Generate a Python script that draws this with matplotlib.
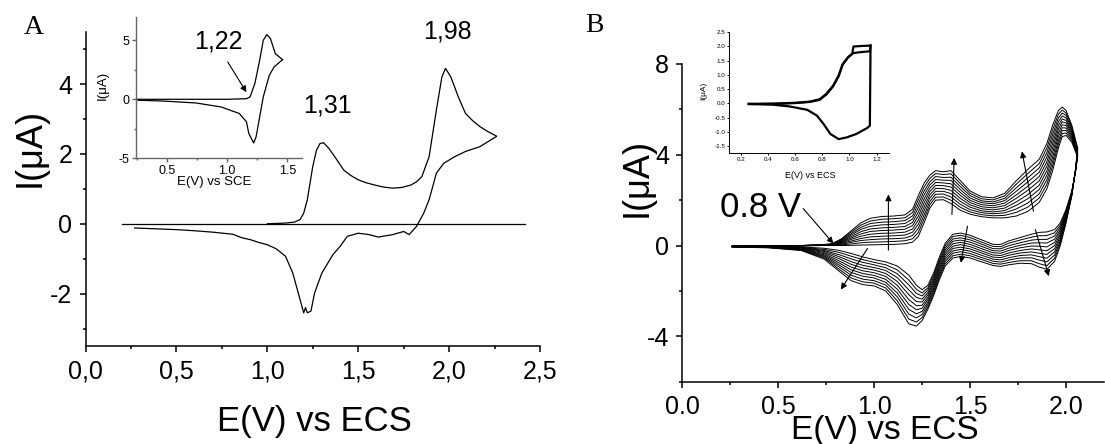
import matplotlib
matplotlib.use('Agg')
import matplotlib.pyplot as plt
from matplotlib.ticker import MultipleLocator, FuncFormatter

plt.rcParams['font.family'] = ['Liberation Sans', 'DejaVu Sans']
plt.rcParams['axes.unicode_minus'] = False

W, H = 1105, 444

# ---------------- panel A : single voltammogram ----------------
a_base_e = [0.20, 2.42]
a_base_i = [0.0, 0.0]
a_fwd_e = [1.00, 1.10, 1.15, 1.18, 1.20, 1.22, 1.25, 1.27, 1.29, 1.31, 1.34, 1.38, 1.42, 1.46,
           1.50, 1.54, 1.59, 1.64, 1.69, 1.74, 1.79, 1.82, 1.85, 1.89, 1.93, 1.96, 1.98, 2.01,
           2.05, 2.09, 2.13, 2.17, 2.21, 2.26]
a_fwd_i = [0.0, 0.02, 0.05, 0.12, 0.30, 0.69, 1.64, 2.10, 2.30, 2.32, 2.15, 1.85, 1.54, 1.38,
           1.26, 1.18, 1.11, 1.05, 1.02, 1.04, 1.11, 1.20, 1.35, 1.92, 3.26, 4.20, 4.45, 4.20,
           3.64, 3.16, 2.95, 2.78, 2.65, 2.51]
a_rev_e = [2.26, 2.17, 2.09, 2.03, 1.97, 1.93, 1.89, 1.86, 1.82, 1.78, 1.75, 1.69, 1.61, 1.56,
           1.50, 1.44, 1.40, 1.36, 1.30, 1.26, 1.24, 1.22, 1.21, 1.20, 1.18, 1.14, 1.10, 1.05,
           1.00, 0.95, 0.91, 0.86, 0.81, 0.70, 0.60, 0.51, 0.27]
a_rev_i = [2.50, 2.21, 2.07, 1.92, 1.73, 1.45, 0.69, 0.30, -0.08, -0.31, -0.22, -0.31, -0.38, -0.31,
           -0.27, -0.36, -0.65, -0.89, -1.41, -1.98, -2.50, -2.55, -2.40, -2.55, -2.17, -1.41, -0.93, -0.72,
           -0.60, -0.53, -0.46, -0.40, -0.30, -0.24, -0.20, -0.17, -0.12]

# inset of A
ia_fwd_e = [0.25, 1.00, 1.16, 1.19, 1.23, 1.27, 1.30, 1.33, 1.36, 1.40, 1.46]
ia_fwd_i = [0.0, 0.0, 0.05, 0.20, 1.33, 3.30, 5.00, 5.48, 5.14, 3.87, 3.36]
ia_rev_e = [1.46, 1.39, 1.35, 1.30, 1.27, 1.24, 1.22, 1.18, 1.16, 1.10, 0.95, 0.74, 0.45, 0.26]
ia_rev_i = [3.36, 2.74, 2.03, 0.20, -1.50, -3.20, -3.70, -2.90, -1.90, -1.20, -0.65, -0.31, -0.14, -0.08]

# ---------------- panel B : repeated cycles ----------------
b_fwd_e = [0.26, 0.45, 0.62, 0.72, 0.78, 0.83, 0.88, 0.93, 0.98, 1.04, 1.10, 1.16, 1.20, 1.23,
           1.26, 1.29, 1.32, 1.36, 1.40, 1.45, 1.50, 1.56, 1.62, 1.68, 1.74, 1.80, 1.86, 1.90,
           1.93, 1.96, 1.98, 2.00, 2.03, 2.06]
b_fwd_i = [
    [-0.03, -0.02, -0.01, 0.0, 0.0, 0.0, 0.01, 0.02, 0.03, 0.04, 0.05, 0.08, 0.15, 0.4, 1.0, 1.65, 2.0, 2.02, 1.85, 1.55, 1.38, 1.27, 1.22, 1.22, 1.3, 1.5, 1.9, 2.5, 3.3, 4.3, 4.8, 4.85, 4.55, 3.9],
    [-0.03, -0.02, -0.01, 0.0, 0.01, 0.03, 0.07, 0.12, 0.15, 0.16, 0.18, 0.21, 0.30, 0.58, 1.18, 1.80, 2.13, 2.14, 2.00, 1.68, 1.48, 1.36, 1.31, 1.33, 1.46, 1.69, 2.09, 2.7, 3.5, 4.47, 4.93, 4.96, 4.63, 3.94],
    [-0.03, -0.02, -0.01, 0.01, 0.02, 0.06, 0.14, 0.22, 0.26, 0.29, 0.30, 0.33, 0.44, 0.76, 1.35, 1.94, 2.26, 2.27, 2.14, 1.81, 1.58, 1.45, 1.40, 1.44, 1.61, 1.87, 2.28, 2.9, 3.7, 4.63, 5.06, 5.07, 4.70, 3.98],
    [-0.03, -0.02, -0.01, 0.01, 0.02, 0.09, 0.20, 0.31, 0.38, 0.41, 0.43, 0.46, 0.59, 0.94, 1.53, 2.09, 2.39, 2.39, 2.29, 1.94, 1.69, 1.53, 1.48, 1.54, 1.77, 2.06, 2.47, 3.1, 3.9, 4.80, 5.19, 5.18, 4.78, 4.02],
    [-0.03, -0.02, -0.01, 0.01, 0.03, 0.12, 0.27, 0.41, 0.50, 0.54, 0.55, 0.59, 0.73, 1.12, 1.70, 2.23, 2.52, 2.51, 2.43, 2.07, 1.79, 1.62, 1.57, 1.65, 1.92, 2.24, 2.66, 3.3, 4.1, 4.96, 5.32, 5.29, 4.85, 4.06],
    [-0.03, -0.02, 0.0, 0.02, 0.04, 0.15, 0.33, 0.51, 0.62, 0.66, 0.68, 0.72, 0.88, 1.30, 1.88, 2.38, 2.65, 2.64, 2.58, 2.20, 1.89, 1.71, 1.66, 1.76, 2.08, 2.43, 2.85, 3.5, 4.3, 5.13, 5.45, 5.40, 4.93, 4.10],
    [-0.03, -0.02, 0.0, 0.02, 0.05, 0.18, 0.39, 0.61, 0.73, 0.78, 0.80, 0.84, 1.02, 1.48, 2.05, 2.52, 2.78, 2.76, 2.72, 2.33, 1.99, 1.80, 1.75, 1.87, 2.23, 2.61, 3.04, 3.7, 4.5, 5.29, 5.58, 5.51, 5.00, 4.14],
    [-0.03, -0.02, 0.0, 0.02, 0.06, 0.21, 0.46, 0.71, 0.85, 0.91, 0.93, 0.97, 1.17, 1.66, 2.23, 2.67, 2.91, 2.88, 2.87, 2.46, 2.09, 1.89, 1.84, 1.98, 2.39, 2.80, 3.23, 3.9, 4.7, 5.46, 5.71, 5.62, 5.08, 4.18],
    [-0.03, -0.02, 0.0, 0.02, 0.06, 0.24, 0.52, 0.80, 0.97, 1.03, 1.05, 1.10, 1.31, 1.84, 2.40, 2.81, 3.04, 3.00, 3.01, 2.59, 2.20, 1.97, 1.92, 2.08, 2.54, 2.98, 3.42, 4.1, 4.9, 5.62, 5.84, 5.73, 5.15, 4.22],
    [-0.03, -0.02, 0.0, 0.03, 0.07, 0.27, 0.59, 0.90, 1.08, 1.16, 1.18, 1.22, 1.46, 2.02, 2.58, 2.96, 3.17, 3.13, 3.16, 2.72, 2.30, 2.06, 2.01, 2.19, 2.70, 3.17, 3.61, 4.3, 5.1, 5.79, 5.97, 5.84, 5.23, 4.26],
    [-0.03, -0.02, 0.0, 0.03, 0.08, 0.30, 0.65, 1.0, 1.2, 1.28, 1.3, 1.35, 1.6, 2.2, 2.75, 3.1, 3.3, 3.25, 3.3, 2.85, 2.4, 2.15, 2.1, 2.3, 2.85, 3.35, 3.8, 4.5, 5.3, 5.95, 6.1, 5.95, 5.3, 4.3],
]
b_rev_e = [2.06, 2.05, 2.03, 2.00, 1.97, 1.94, 1.90, 1.86, 1.82, 1.76, 1.70, 1.66, 1.62, 1.56,
           1.50, 1.45, 1.41, 1.37, 1.34, 1.31, 1.28, 1.25, 1.22, 1.18, 1.12, 1.06, 1.00, 0.94,
           0.88, 0.82, 0.74, 0.62, 0.45, 0.26]
b_rev_i = [
    [3.9, 3.3, 2.4, 1.6, 1.0, 0.7, 0.6, 0.58, 0.5, 0.35, 0.2, 0.05, 0.05, 0.25, 0.45, 0.55, 0.5, 0.1, -0.5, -1.2, -1.75, -1.95, -1.75, -1.3, -0.9, -0.72, -0.62, -0.5, -0.35, -0.22, -0.12, -0.06, -0.04, -0.03],
    [3.94, 3.31, 2.38, 1.54, 0.9, 0.56, 0.44, 0.43, 0.37, 0.24, 0.10, -0.05, -0.04, 0.15, 0.35, 0.45, 0.40, 0.0, -0.6, -1.3, -1.86, -2.09, -1.93, -1.52, -1.07, -0.85, -0.74, -0.62, -0.47, -0.31, -0.17, -0.08, -0.05, -0.03],
    [3.98, 3.32, 2.36, 1.48, 0.8, 0.42, 0.27, 0.27, 0.24, 0.12, -0.01, -0.14, -0.14, 0.06, 0.25, 0.34, 0.29, -0.1, -0.7, -1.4, -1.96, -2.22, -2.11, -1.73, -1.24, -0.98, -0.85, -0.74, -0.59, -0.41, -0.22, -0.09, -0.05, -0.04],
    [4.02, 3.33, 2.34, 1.42, 0.7, 0.28, 0.11, 0.12, 0.11, 0.01, -0.12, -0.24, -0.23, -0.04, 0.15, 0.24, 0.19, -0.2, -0.8, -1.5, -2.07, -2.36, -2.29, -1.95, -1.41, -1.10, -0.97, -0.87, -0.71, -0.50, -0.26, -0.11, -0.06, -0.04],
    [4.06, 3.34, 2.32, 1.36, 0.6, 0.14, -0.06, -0.03, -0.02, -0.10, -0.22, -0.34, -0.32, -0.14, 0.05, 0.14, 0.08, -0.3, -0.9, -1.6, -2.17, -2.49, -2.47, -2.16, -1.58, -1.23, -1.08, -0.99, -0.83, -0.59, -0.31, -0.12, -0.06, -0.05],
    [4.10, 3.35, 2.30, 1.30, 0.5, 0.0, -0.23, -0.19, -0.15, -0.22, -0.33, -0.44, -0.42, -0.24, -0.05, 0.04, -0.03, -0.4, -1.0, -1.7, -2.28, -2.63, -2.65, -2.38, -1.75, -1.36, -1.20, -1.11, -0.95, -0.69, -0.36, -0.14, -0.07, -0.05],
    [4.14, 3.36, 2.28, 1.24, 0.4, -0.14, -0.39, -0.34, -0.28, -0.33, -0.43, -0.53, -0.51, -0.33, -0.15, -0.07, -0.13, -0.5, -1.1, -1.8, -2.38, -2.76, -2.83, -2.59, -1.92, -1.49, -1.32, -1.23, -1.07, -0.78, -0.41, -0.16, -0.08, -0.05],
    [4.18, 3.37, 2.26, 1.18, 0.3, -0.28, -0.56, -0.49, -0.41, -0.44, -0.54, -0.63, -0.60, -0.43, -0.25, -0.17, -0.24, -0.6, -1.2, -1.9, -2.49, -2.90, -3.01, -2.81, -2.09, -1.62, -1.43, -1.35, -1.19, -0.87, -0.46, -0.17, -0.08, -0.06],
    [4.22, 3.38, 2.24, 1.12, 0.2, -0.42, -0.72, -0.64, -0.54, -0.55, -0.64, -0.73, -0.69, -0.53, -0.35, -0.27, -0.34, -0.7, -1.3, -2.0, -2.59, -3.03, -3.19, -3.02, -2.26, -1.74, -1.55, -1.48, -1.31, -0.96, -0.50, -0.19, -0.09, -0.06],
    [4.26, 3.39, 2.22, 1.06, 0.1, -0.56, -0.89, -0.80, -0.67, -0.67, -0.75, -0.82, -0.79, -0.62, -0.45, -0.38, -0.45, -0.8, -1.4, -2.1, -2.70, -3.17, -3.37, -3.24, -2.43, -1.87, -1.66, -1.60, -1.43, -1.06, -0.55, -0.20, -0.09, -0.07],
    [4.3, 3.4, 2.2, 1.0, 0.0, -0.7, -1.05, -0.95, -0.8, -0.78, -0.85, -0.92, -0.88, -0.72, -0.55, -0.48, -0.55, -0.9, -1.5, -2.2, -2.8, -3.3, -3.55, -3.45, -2.6, -2.0, -1.78, -1.72, -1.55, -1.15, -0.6, -0.22, -0.1, -0.07],
]
b_arrow_tail = [(1.074, -0.20), (1.405, 1.37), (1.83, 1.51), (0.965, -0.13), (1.486, 0.85), (1.84, 0.70)]
b_arrow_head = [(1.074, 2.25), (1.417, 3.86), (1.77, 4.15), (0.826, -1.94), (1.452, -0.76), (1.91, -1.35)]

# inset of B (two overlapping cycles)
ib_fwd1_e = [0.26, 0.45, 0.61, 0.71, 0.78, 0.83, 0.88, 0.92, 0.95, 0.99, 1.03, 1.08, 1.15, 1.155]
ib_fwd1_i = [-0.02, -0.01, 0.02, 0.06, 0.14, 0.33, 0.62, 0.97, 1.38, 1.62, 1.77, 1.80, 1.83, 2.03]
ib_fwd2_e = [0.26, 0.45, 0.61, 0.71, 0.78, 0.83, 0.88, 0.92, 0.95, 0.99, 1.02, 1.03, 1.10, 1.155]
ib_fwd2_i = [-0.03, -0.02, 0.01, 0.05, 0.12, 0.31, 0.60, 0.95, 1.36, 1.62, 1.75, 2.00, 2.02, 2.03]
ib_rev_e = [1.155, 1.15, 1.13, 1.05, 0.98, 0.92, 0.86, 0.81, 0.76, 0.69, 0.56, 0.44, 0.26]
ib_rev_i = [2.03, -0.79, -0.87, -1.08, -1.20, -1.26, -1.08, -0.73, -0.43, -0.23, -0.11, -0.05, -0.02]


def px(x, y):
    return x / W, 1 - y / H


def style(ax, lw=1.1, major=4.5, minor=2.5, size=18, pad=4, color='k'):
    for s in ('top', 'right'):
        ax.spines[s].set_visible(False)
    for s in ('left', 'bottom'):
        ax.spines[s].set_linewidth(lw)
        ax.spines[s].set_color(color)
    ax.tick_params(which='major', direction='out', length=major, width=lw, labelsize=size,
                   pad=pad, color=color)
    ax.tick_params(which='minor', direction='out', length=minor, width=lw, color=color)
    ax.patch.set_alpha(0)


arrow_kw = dict(arrowstyle='-|>', lw=0.8, color='k', mutation_scale=9, shrinkA=0, shrinkB=0)

fig = plt.figure(figsize=(W / 100, H / 100), dpi=100)

# ---- A main
axA = fig.add_axes([0.0774, 0.2207, 0.4113, 0.7079])
axA.plot(a_base_e, a_base_i, color='k', lw=0.9)
axA.plot(a_fwd_e, a_fwd_i, color='k', lw=0.9)
axA.plot(a_rev_e, a_rev_i, color='k', lw=0.9)
axA.set_xlim(0, 2.5)
axA.set_ylim(-3.5, 5.5)
axA.xaxis.set_major_locator(MultipleLocator(0.5))
axA.xaxis.set_minor_locator(MultipleLocator(0.25))
axA.yaxis.set_major_locator(MultipleLocator(2))
axA.yaxis.set_minor_locator(MultipleLocator(1))
axA.xaxis.set_major_formatter(FuncFormatter(lambda v, p: f'{v:.1f}'.replace('.', ',')))
axA.yaxis.set_major_formatter(FuncFormatter(lambda v, p: f'{v:.0f}'))
style(axA, pad=5)

# ---- A inset
axAi = fig.add_axes([0.1228, 0.6435, 0.1503, 0.3189])
axAi.plot(ia_fwd_e, ia_fwd_i, color='k', lw=0.9)
axAi.plot(ia_rev_e, ia_rev_i, color='k', lw=0.9)
axAi.set_xlim(0.24, 1.62)
axAi.set_ylim(-5, 7)
axAi.xaxis.set_major_locator(MultipleLocator(0.5))
axAi.xaxis.set_minor_locator(MultipleLocator(0.25))
axAi.yaxis.set_major_locator(MultipleLocator(5))
axAi.yaxis.set_minor_locator(MultipleLocator(2.5))
axAi.yaxis.set_major_formatter(FuncFormatter(lambda v, p: f'{v:.0f}'))
style(axAi, lw=1.0, major=3, minor=1.5, size=9, pad=1.5, color='0.4')
axAi.annotate('', xy=(1.16, 0.6), xytext=(1.005, 3.16), arrowprops=arrow_kw)

# ---- B main
axB = fig.add_axes([0.6175, 0.1403, 0.382, 0.7156])
for row in b_fwd_i:
    axB.plot(b_fwd_e, row, color='k', lw=0.7)
for row in b_rev_i:
    axB.plot(b_rev_e, row, color='k', lw=0.7)
for tail, head in zip(b_arrow_tail, b_arrow_head):
    axB.annotate('', xy=head, xytext=tail, arrowprops=arrow_kw)
axB.annotate('', xy=(0.787, 0.09), xytext=(0.63, 1.63), arrowprops=arrow_kw)
axB.set_xlim(0, 2.2)
axB.set_ylim(-6, 8)
axB.xaxis.set_major_locator(MultipleLocator(0.5))
axB.xaxis.set_minor_locator(MultipleLocator(0.25))
axB.yaxis.set_major_locator(MultipleLocator(4))
axB.yaxis.set_minor_locator(MultipleLocator(2))
axB.xaxis.set_major_formatter(FuncFormatter(lambda v, p: f'{v:.1f}'))
axB.yaxis.set_major_formatter(FuncFormatter(lambda v, p: f'{v:.0f}'))
style(axB, pad=5)

# ---- B inset
axBi = fig.add_axes([0.6597, 0.6547, 0.1451, 0.2739])
axBi.plot(ib_fwd1_e, ib_fwd1_i, color='k', lw=1.6)
axBi.plot(ib_fwd2_e, ib_fwd2_i, color='k', lw=1.6)
axBi.plot(ib_rev_e, ib_rev_i, color='k', lw=1.6)
axBi.set_xlim(0.114, 1.293)
axBi.set_ylim(-1.76, 2.52)
axBi.xaxis.set_major_locator(MultipleLocator(0.2))
axBi.yaxis.set_major_locator(MultipleLocator(0.5))
axBi.xaxis.set_major_formatter(FuncFormatter(lambda v, p: f'{v:.1f}'))
axBi.yaxis.set_major_formatter(FuncFormatter(lambda v, p: f'{v:.1f}'))
style(axBi, lw=0.7, major=1.5, minor=1, size=4.5, pad=1)

# ---- texts
fig.text(*px(34, 28), 'A', family='Liberation Serif', fontsize=20, ha='center', va='center')
fig.text(*px(594, 25), 'B', family='Liberation Serif', fontsize=20, ha='center', va='center')
fig.text(*px(314, 431), 'E(V) vs ECS', fontsize=25, ha='center', va='baseline')
fig.text(*px(885, 439), 'E(V) vs ECS', fontsize=24, ha='center', va='baseline')
fig.text(*px(30, 147), 'I(μA)', fontsize=26, ha='center', va='center', rotation=90)
fig.text(*px(637, 177), 'I(μA)', fontsize=26, ha='center', va='center', rotation=90)
fig.text(*px(447, 32), '1,98', fontsize=18, ha='center', va='center')
fig.text(*px(327, 106), '1,31', fontsize=18, ha='center', va='center')
fig.text(*px(218, 41), '1,22', fontsize=18, ha='center', va='center')
fig.text(*px(214, 182), 'E(V) vs SCE', fontsize=9.5, ha='center', va='center')
fig.text(*px(103, 85), 'I(μA)', fontsize=9.5, ha='center', va='center', rotation=90)
fig.text(*px(760, 207), '0.8 V', fontsize=25, ha='center', va='center')
fig.text(*px(810, 175), 'E(V) vs ECS', fontsize=6.5, ha='center', va='center')
fig.text(*px(704, 91), 'I(μA)', fontsize=6, ha='center', va='center', rotation=90)

fig.savefig('out.png', dpi=100)
